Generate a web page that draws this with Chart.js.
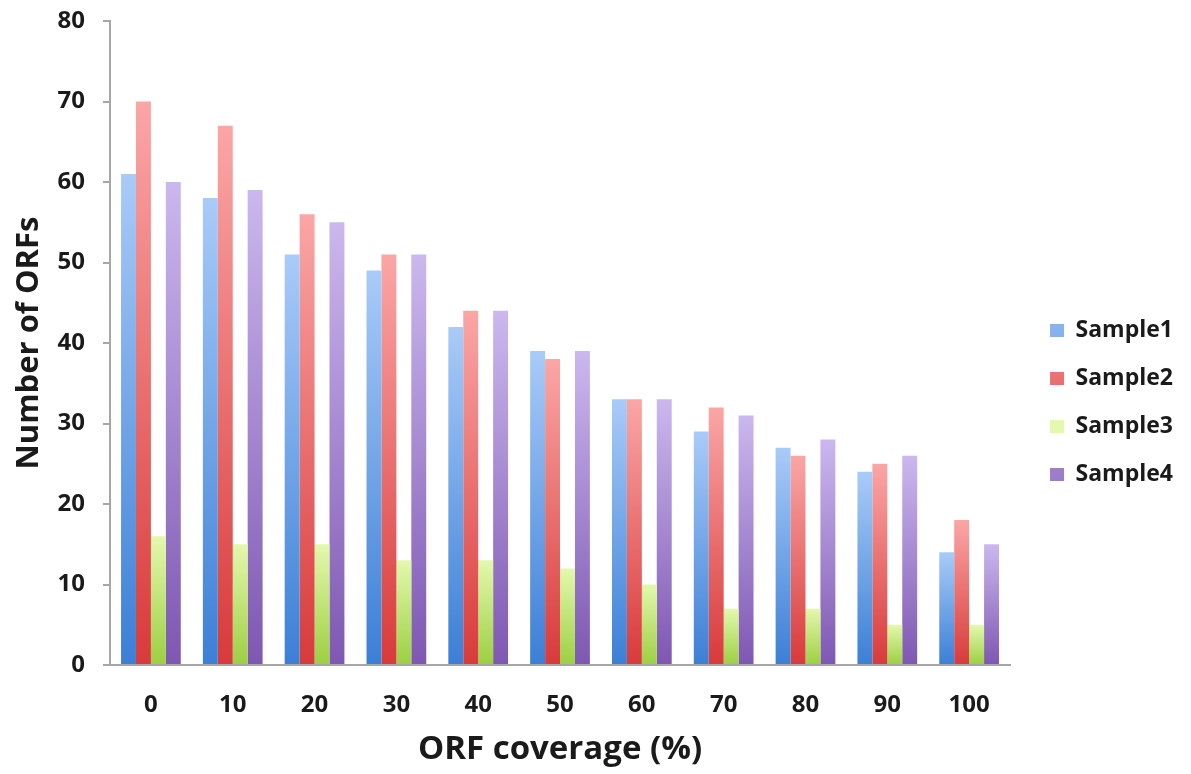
<!DOCTYPE html>
<html>
<head>
<meta charset="utf-8">
<script src="https://cdn.jsdelivr.net/npm/chart.js@4/dist/chart.umd.min.js"></script>
<style>
  html, body { margin: 0; padding: 0; background: #fff; }
  #wrap { width: 1191px; height: 774px; position: relative; }
</style>
</head>
<body>
<div id="wrap"><canvas id="orfChart"></canvas></div>
<script>
// Data
const coverageLabels = ["0", "10", "20", "30", "40", "50", "60", "70", "80", "90", "100"];
const sample1 = [61, 58, 51, 49, 42, 39, 33, 29, 27, 24, 14];
const sample2 = [70, 67, 56, 51, 44, 38, 33, 32, 26, 25, 18];
const sample3 = [16, 15, 15, 13, 13, 12, 10, 7, 7, 5, 5];
const sample4 = [60, 59, 55, 51, 44, 39, 33, 31, 28, 26, 15];
const yTicks = [0, 10, 20, 30, 40, 50, 60, 70, 80];

// [light top, dark bottom, legend swatch]
const palette = {
  blue:   ["#a9cbf8", "#3b7fd6", "#5a95e2"],
  red:    ["#fba6a6", "#d83a3a", "#e25a5a"],
  green:  ["#e4f8ae", "#9ccf42", "#b9df72"],
  purple: ["#cbb8ee", "#7e57b2", "#9a7dcc"]
};

const FONT = "'Open Sans', 'DejaVu Sans', sans-serif";
const TEXT = "#1a1a1a";
const AXIS = "#a6a6a6";

// Each bar gets its own vertical gradient (light at top, dark at base)
function barGradient(colors) {
  return (ctx) => {
    if (ctx.type !== "data") return colors[2];
    const chart = ctx.chart;
    const y = chart.scales.y;
    if (!chart.chartArea || !y) return colors[2];
    const top = y.getPixelForValue(ctx.raw);
    const base = y.getPixelForValue(0);
    if (!isFinite(top) || top === base) return colors[2];
    const g = chart.ctx.createLinearGradient(0, top, 0, base);
    g.addColorStop(0, colors[0]);
    g.addColorStop(1, colors[1]);
    return g;
  };
}

// Nudge the legend to where the reference has it
const legendShift = {
  id: "legendShift",
  afterLayout(chart) {
    const lg = chart.legend;
    lg.left += 15; lg.right += 15;
    lg.top += 18; lg.bottom += 18;
  }
};

const ctx = document.getElementById("orfChart").getContext("2d");

new Chart(ctx, {
  type: "bar",
  data: {
    labels: coverageLabels,
    datasets: [
      { label: "Sample1", data: sample1, backgroundColor: barGradient(palette.blue) },
      { label: "Sample2", data: sample2, backgroundColor: barGradient(palette.red) },
      { label: "Sample3", data: sample3, backgroundColor: barGradient(palette.green) },
      { label: "Sample4", data: sample4, backgroundColor: barGradient(palette.purple) }
    ]
  },
  options: {
    responsive: true,
    maintainAspectRatio: false,
    animation: false,
    layout: { padding: { left: 0, right: 23, top: 0, bottom: 5 } },
    datasets: {
      bar: { barPercentage: 1, categoryPercentage: 0.73, borderWidth: 0 }
    },
    scales: {
      x: {
        grid: { display: false },
        border: { display: true, color: AXIS, width: 2 },
        ticks: { color: TEXT, padding: 18, font: { family: FONT, size: 24, weight: "bold" } },
        title: {
          display: true,
          text: "ORF coverage (%)",
          color: TEXT,
          padding: { top: 0, bottom: 0 },
          font: { family: FONT, size: 33, weight: "bold" }
        },
        afterFit: (scale) => { scale.height = 774 - 665 - 5; }
      },
      y: {
        min: 0,
        max: 80,
        afterBuildTicks: (scale) => { scale.ticks = yTicks.map(v => ({ value: v })); },
        grid: { display: true, drawOnChartArea: false, drawTicks: true, tickLength: 7, color: AXIS, lineWidth: 2 },
        border: { display: true, color: AXIS, width: 2 },
        ticks: { color: TEXT, padding: 18, font: { family: FONT, size: 24, weight: "bold" } },
        title: {
          display: true,
          text: "Number of ORFs",
          color: TEXT,
          padding: { top: 11, bottom: 0 },
          font: { family: FONT, size: 31, weight: "bold" }
        },
        afterFit: (scale) => {
          scale.width = 110;
          scale.paddingTop = 21;
        }
      }
    },
    plugins: {
      legend: {
        position: "right",
        labels: {
          color: TEXT,
          boxWidth: 14,
          boxHeight: 13,
          padding: 25,
          font: { family: FONT, size: 23, weight: "bold" }
        }
      },
      datalabels: { display: false },
      tooltip: { enabled: false }
    }
  },
  plugins: [legendShift]
});
</script>
</body>
</html>
